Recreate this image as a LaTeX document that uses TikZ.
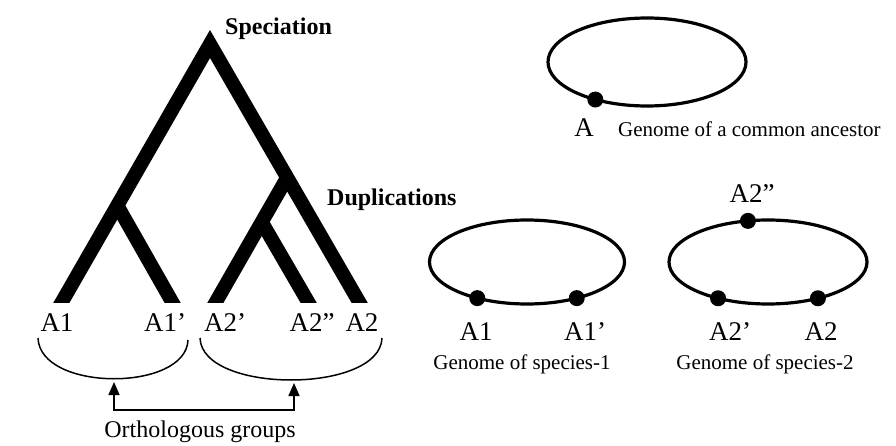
\documentclass[tikz,border=0pt]{standalone}
\usepackage{fontspec}
\setmainfont{Liberation Serif}
\usetikzlibrary{arrows.meta, positioning, shapes.geometric}

\begin{document}
\begin{tikzpicture}[
  x=1pt, y=-1pt,
  branch/.style={line width=14pt, line join=miter, shorten >=-14pt},
  event/.style={font=\fontsize{24}{26}\selectfont\bfseries, inner sep=0pt},
  gene/.style={font=\fontsize{27}{29}\selectfont, inner sep=0pt},
  caption/.style={font=\fontsize{21}{23}\selectfont, inner sep=0pt},
  bracket/.style={line width=1.5pt},
  genome/.style={draw, ellipse, line width=3.2pt, inner sep=0pt, outer sep=0pt},
  locus/.style={circle, fill, inner sep=0pt, minimum size=16pt}
]
  \useasboundingbox (0,0) rectangle (896,446);

  % gene tree
  \coordinate (root) at (210,44);
  \coordinate (nl) at (117,205);
  \coordinate (nr) at (287.5,177);
  \coordinate (nd) at (261.7,222);
  \coordinate (a1) at (63,300);
  \coordinate (a1p) at (171,300);
  \coordinate (a2p) at (217,300);
  \coordinate (a2pp) at (307,300);
  \coordinate (a2) at (358,300);
  \begin{scope}
    \clip (0,0) rectangle (896,302);
    \draw[branch, shorten <=-14pt] (a1) -- (root) -- (a2);
    \draw[branch] (nl) -- (a1p);
    \draw[branch] (nr) -- (a2p);
    \draw[branch] (nd) -- (a2pp);
  \end{scope}
  \node[event, anchor=west] (spec) at (225,29) {Speciation};
  \node[event, anchor=west] (dup) at (327,200) {Duplications};

  \node[gene] (l-a1) at (57,323) {A1};
  \node[gene] (l-a1p) at (165,323) {A1'};
  \node[gene] (l-a2p) at (225,323) {A2'};
  \node[gene] (l-a2pp) at (312,323) {A2''};
  \node[gene] (l-a2) at (362,323) {A2};

  % orthologous groups
  \draw[bracket] (38,338) .. controls (40,392) and (186,392) .. (188,340);
  \draw[bracket] (200,338) .. controls (202,394) and (380,394) .. (382,338);
  \coordinate (og1) at (114,382);
  \coordinate (og2) at (294,383);
  \draw[bracket, {Triangle[length=13pt,width=11pt]}-{Triangle[length=13pt,width=11pt]}]
    (og1) -- ++(0,28) -| (og2);
  \node[caption, font=\fontsize{24}{26}\selectfont] (ortho) at (200,432) {Orthologous groups};

  % genomes
  \node[genome, minimum width=198pt, minimum height=88pt] (anc) at (647,62) {};
  \node[locus] (d-a) at (anc.216) {};
  \node[gene] (g-a) at (584,128) {A};
  \node[caption, anchor=west] (c-anc) at (618,129) {Genome of a common ancestor};

  \node[genome, minimum width=195pt, minimum height=84pt] (sp1) at (527,262) {};
  \node[locus] (d-a1) at (sp1.216) {};
  \node[locus] (d-a1p) at (sp1.324) {};
  \node[gene] (g-a1) at (476,332) {A1};
  \node[gene] (g-a1p) at (585,332) {A1'};
  \node[caption] (c-sp1) at (522,364) {Genome of species-1};

  \node[genome, minimum width=198pt, minimum height=84pt] (sp2) at (768,262) {};
  \node[locus] (d-a2pp) at (sp2.116) {};
  \node[locus] (d-a2p) at (sp2.216) {};
  \node[locus] (d-a2) at (sp2.324) {};
  \node[gene] (g-a2pp) at (752,194) {A2''};
  \node[gene] (g-a2p) at (730,332) {A2'};
  \node[gene] (g-a2) at (821,332) {A2};
  \node[caption] (c-sp2) at (765,364) {Genome of species-2};
\end{tikzpicture}
\end{document}
